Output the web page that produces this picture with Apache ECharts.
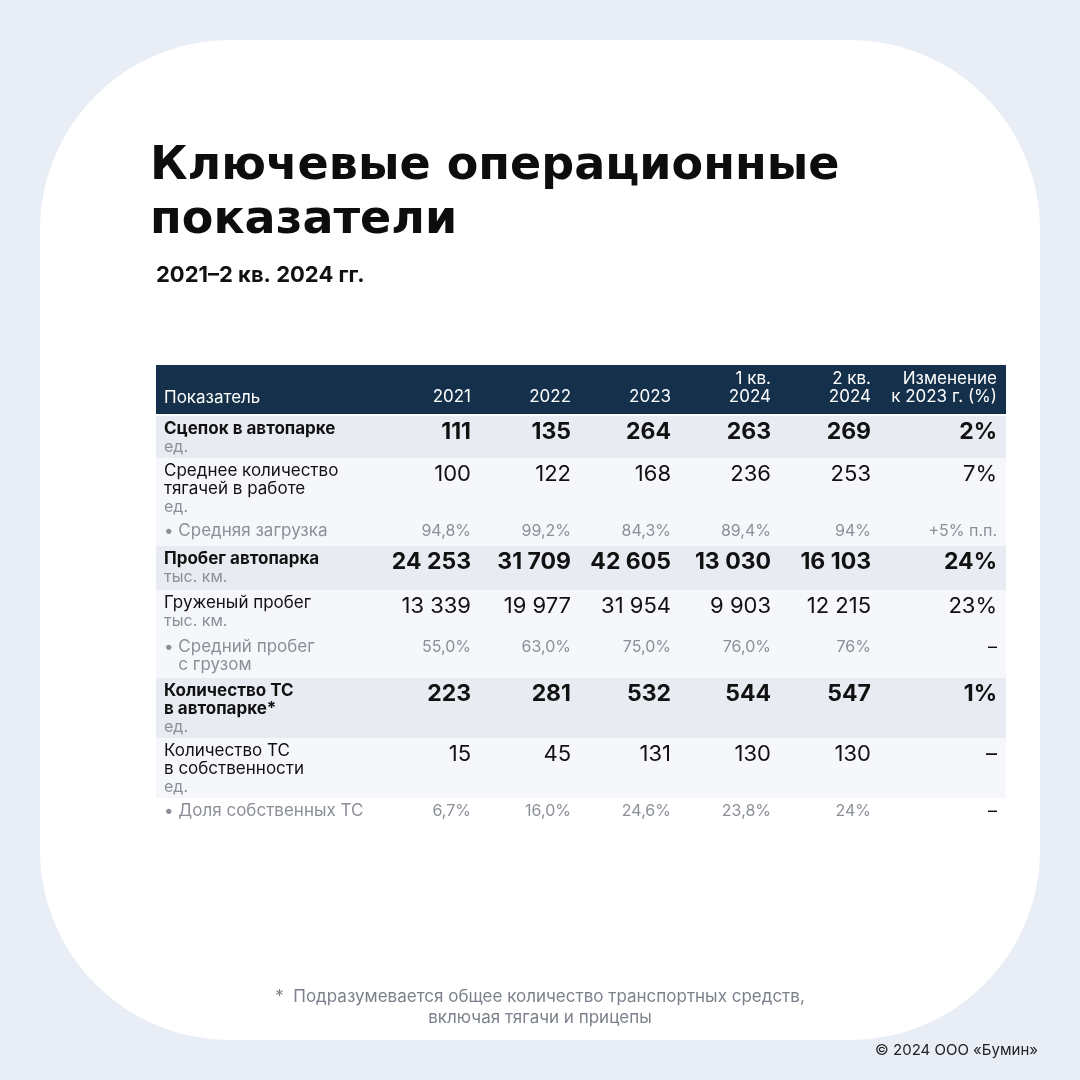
<!DOCTYPE html>
<html><head><meta charset="utf-8">
<script src="https://cdn.jsdelivr.net/npm/echarts@6/dist/echarts.min.js"></script>
<style>html,body{margin:0;padding:0;background:#e9edf5}#c{width:1080px;height:1080px}</style>
</head><body><div id="c"></div>
<script>
var chart = echarts.init(document.getElementById("c"));

var columns = ["2021", "2022", "2023", "1 кв.\n2024", "2 кв.\n2024", "Изменение\nк 2023 г. (%)"];
var rowLabels = [
  ["Сцепок в автопарке", "ед."],
  ["Среднее количество\nтягачей в работе", "ед."],
  ["• Средняя загрузка", ""],
  ["Пробег автопарка", "тыс. км."],
  ["Груженый пробег", "тыс. км."],
  ["• Средний пробег\n   с грузом", ""],
  ["Количество ТС\nв автопарке*", "ед."],
  ["Количество ТС\nв собственности", "ед."],
  ["• Доля собственных ТС", ""]
];
// kind: 0 = main bold, 1 = regular, 2 = share (small grey)
var rowKinds = [0, 1, 2, 0, 1, 2, 0, 1, 2];
var rowValues = [
  ["111", "135", "264", "263", "269", "2%"],
  ["100", "122", "168", "236", "253", "7%"],
  ["94,8%", "99,2%", "84,3%", "89,4%", "94%", "+5% п.п."],
  ["24 253", "31 709", "42 605", "13 030", "16 103", "24%"],
  ["13 339", "19 977", "31 954", "9 903", "12 215", "23%"],
  ["55,0%", "63,0%", "75,0%", "76,0%", "76%", "–"],
  ["223", "281", "532", "544", "547", "1%"],
  ["15", "45", "131", "130", "130", "–"],
  ["6,7%", "16,0%", "24,6%", "23,8%", "24%", "–"]
];

var F = "Inter, 'Noto Sans', sans-serif";
var colRight = [471, 571, 671, 771, 871, 997];
var rowTops = [416, 458, 518, 546, 590, 634, 678, 738, 798, 826];
var rowFill = ["#e8ebf2", "#f5f7fb", "#f5f7fb", "#e8ebf2", "#f5f7fb", "#f5f7fb", "#e8ebf2", "#f5f7fb", "#ffffff"];

var g = [];
g.push({ type: "rect", shape: { x: 40, y: 40, width: 1000, height: 1000, r: 190 }, style: { fill: "#ffffff" } });
g.push({ type: "text", left: 150, top: 140, style: { text: "Ключевые операционные\nпоказатели", font: "bold 46px 'DejaVu Sans', sans-serif", fill: "#0d0d0d", lineHeight: 54 } });
g.push({ type: "text", left: 156, top: 264, style: { text: "2021–2 кв. 2024 гг.", font: "bold 22px " + F, fill: "#111" } });

// header
g.push({ type: "rect", shape: { x: 156, y: 365, width: 850, height: 49 }, style: { fill: "#14304a" } });
g.push({ type: "text", x: 164, y: 406, style: { text: "Показатель", font: "17px " + F, fill: "#fff", verticalAlign: "bottom" } });
columns.forEach(function (c, j) {
  g.push({ type: "text", x: colRight[j], y: 406, style: { text: c, font: "17px " + F, fill: "#fff", align: "right", verticalAlign: "bottom", lineHeight: 18 } });
});

rowLabels.forEach(function (lab, i) {
  var y0 = rowTops[i], k = rowKinds[i];
  g.push({ type: "rect", shape: { x: 156, y: y0, width: 850, height: rowTops[i + 1] - y0 }, style: { fill: rowFill[i] } });
  var labFont = k === 0 ? "bold 17px " + F : "17px " + F;
  var labCol = k === 2 ? "#8a8f98" : "#111";
  g.push({ type: "text", x: 164, y: y0 + 4, style: { text: lab[0], font: labFont, fill: labCol, lineHeight: 18 } });
  if (lab[1]) {
    var nl = lab[0].split("\n").length;
    g.push({ type: "text", x: 164, y: y0 + 4 + nl * 18, style: { text: lab[1], font: "16px " + F, fill: "#8a8f98", lineHeight: 18 } });
  }
  rowValues[i].forEach(function (v, j) {
    var font = k === 0 ? "bold 23px " + F : k === 1 ? "22px " + F : "16px " + F;
    var col = k === 2 ? "#8a8f98" : "#111";
    if (k === 2 && v === "–") { col = "#111"; font = "18px " + F; }
    g.push({ type: "text", x: colRight[j], y: y0 + 5, style: { text: v, font: font, fill: col, align: "right" } });
  });
});

g.push({ type: "text", x: 540, y: 986, style: { text: "*  Подразумевается общее количество транспортных средств,\nвключая тягачи и прицепы", font: "17px " + F, fill: "#7b818b", align: "center", lineHeight: 21 } });
g.push({ type: "text", x: 1038, y: 1043, style: { text: "© 2024 ООО «Бумин»", font: "15px " + F, fill: "#222", align: "right" } });

chart.setOption({ backgroundColor: "#e9edf5", graphic: { elements: g } });
</script>
</body></html>
